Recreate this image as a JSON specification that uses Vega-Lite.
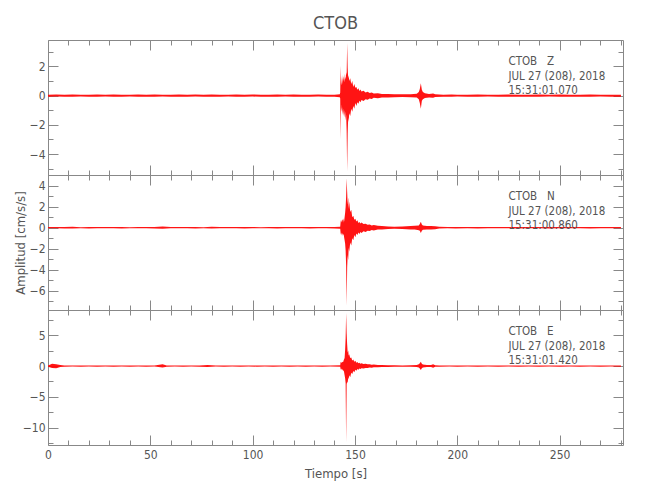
{
"$schema": "https://vega.github.io/schema/vega-lite/v6.json",
"padding": {"left": 13, "top": 15, "right": 5, "bottom": 5},
"title": {"text": "CTOB", "anchor": "middle", "frame": "group", "fontSize": 18, "fontWeight": "normal", "color": "#555", "font": "DejaVu Sans Condensed, Liberation Sans Narrow, sans-serif", "offset": 6},
"config": {
  "view": {"stroke": "#888"},
  "axis": {"domain": false, "grid": false, "tickColor": "#888", "tickWidth": 1, "labelColor": "#555", "labelFont": "DejaVu Sans Condensed, Liberation Sans Narrow, sans-serif", "labelFontSize": 12, "titleFont": "DejaVu Sans Condensed, Liberation Sans Narrow, sans-serif", "titleFontWeight": "normal", "titleColor": "#555", "titleFontSize": 13}
},
"datasets": {
"Z": [
{"t":0,"lo":-0.07,"hi":0.07},{"t":4,"lo":-0.06,"hi":0.08},{"t":8,"lo":-0.08,"hi":0.06},{"t":12,"lo":-0.07,"hi":0.08},{"t":16,"lo":-0.06,"hi":0.07},{"t":20,"lo":-0.07,"hi":0.06},{"t":24,"lo":-0.08,"hi":0.08},{"t":28,"lo":-0.06,"hi":0.07},{"t":32,"lo":-0.07,"hi":0.08},{"t":36,"lo":-0.08,"hi":0.07},{"t":40,"lo":-0.06,"hi":0.06},{"t":44,"lo":-0.07,"hi":0.08},{"t":48,"lo":-0.08,"hi":0.07},{"t":52,"lo":-0.07,"hi":0.08},{"t":56,"lo":-0.06,"hi":0.07},{"t":60,"lo":-0.07,"hi":0.06},{"t":64,"lo":-0.08,"hi":0.08},{"t":68,"lo":-0.07,"hi":0.07},{"t":72,"lo":-0.06,"hi":0.08},{"t":76,"lo":-0.07,"hi":0.07},{"t":80,"lo":-0.08,"hi":0.08},{"t":84,"lo":-0.07,"hi":0.06},{"t":88,"lo":-0.06,"hi":0.07},{"t":92,"lo":-0.08,"hi":0.08},{"t":96,"lo":-0.07,"hi":0.07},{"t":100,"lo":-0.06,"hi":0.08},{"t":104,"lo":-0.08,"hi":0.06},{"t":108,"lo":-0.07,"hi":0.07},{"t":112,"lo":-0.07,"hi":0.08},{"t":116,"lo":-0.06,"hi":0.07},{"t":120,"lo":-0.08,"hi":0.08},{"t":124,"lo":-0.07,"hi":0.06},{"t":128,"lo":-0.07,"hi":0.07},{"t":132,"lo":-0.06,"hi":0.08},{"t":136,"lo":-0.08,"hi":0.07},{"t":140,"lo":-0.07,"hi":0.07},
{"t":142.6,"lo":-0.1,"hi":0.1},{"t":142.8,"lo":-0.2,"hi":0.2},{"t":143,"lo":-3.0,"hi":2.05},{"t":143.2,"lo":-0.6,"hi":0.7},{"t":143.45,"lo":-1.1,"hi":0.9},{"t":143.7,"lo":-0.8,"hi":1.4},{"t":143.95,"lo":-1.3,"hi":0.8},{"t":144.2,"lo":-0.9,"hi":1.3},{"t":144.45,"lo":-1.4,"hi":1.0},{"t":144.7,"lo":-1.0,"hi":1.5},{"t":144.95,"lo":-1.5,"hi":0.9},{"t":145.2,"lo":-1.1,"hi":1.3},{"t":145.45,"lo":-1.7,"hi":1.1},{"t":145.7,"lo":-1.3,"hi":1.6},{"t":145.95,"lo":-2.4,"hi":1.4},{"t":146.2,"lo":-5.15,"hi":3.6},{"t":146.45,"lo":-2.6,"hi":1.9},{"t":146.7,"lo":-1.5,"hi":1.2},{"t":146.95,"lo":-1.8,"hi":1.4},{"t":147.2,"lo":-1.2,"hi":1.0},{"t":147.7,"lo":-1.4,"hi":1.2},{"t":148.2,"lo":-0.9,"hi":0.8},{"t":148.7,"lo":-1.1,"hi":1.0},{"t":149.2,"lo":-0.7,"hi":0.6},{"t":149.7,"lo":-0.9,"hi":0.8},{"t":150.2,"lo":-0.5,"hi":0.55},{"t":150.7,"lo":-0.7,"hi":0.6},{"t":151.2,"lo":-0.45,"hi":0.4},{"t":151.7,"lo":-0.55,"hi":0.5},{"t":152.2,"lo":-0.35,"hi":0.32},{"t":152.7,"lo":-0.45,"hi":0.42},{"t":153.2,"lo":-0.3,"hi":0.28},{"t":154.2,"lo":-0.36,"hi":0.33},{"t":155.2,"lo":-0.24,"hi":0.22},{"t":156.2,"lo":-0.28,"hi":0.27},{"t":157.2,"lo":-0.19,"hi":0.18},{"t":158.2,"lo":-0.22,"hi":0.21},{"t":159.2,"lo":-0.15,"hi":0.15},{"t":161.2,"lo":-0.17,"hi":0.16},{"t":163.2,"lo":-0.12,"hi":0.12},{"t":166.2,"lo":-0.13,"hi":0.12},{"t":169.2,"lo":-0.1,"hi":0.1},{"t":173.2,"lo":-0.09,"hi":0.09},{"t":177.2,"lo":-0.1,"hi":0.1},{"t":180.2,"lo":-0.13,"hi":0.13},{"t":181.2,"lo":-0.25,"hi":0.25},{"t":181.7,"lo":-0.5,"hi":0.45},{"t":182.2,"lo":-0.9,"hi":0.85},{"t":182.7,"lo":-0.35,"hi":0.4},{"t":183.2,"lo":-0.25,"hi":0.25},{"t":184.2,"lo":-0.16,"hi":0.16},{"t":186.2,"lo":-0.12,"hi":0.12},{"t":188.2,"lo":-0.15,"hi":0.14},{"t":189.2,"lo":-0.09,"hi":0.09},{"t":193.2,"lo":-0.07,"hi":0.07},{"t":197.2,"lo":-0.07,"hi":0.08},
{"t":200,"lo":-0.06,"hi":0.07},{"t":205,"lo":-0.08,"hi":0.07},{"t":210,"lo":-0.07,"hi":0.08},{"t":215,"lo":-0.06,"hi":0.07},{"t":220,"lo":-0.07,"hi":0.06},{"t":225,"lo":-0.08,"hi":0.08},{"t":230,"lo":-0.07,"hi":0.07},{"t":235,"lo":-0.08,"hi":0.07},{"t":240,"lo":-0.07,"hi":0.08},{"t":245,"lo":-0.06,"hi":0.07},{"t":250,"lo":-0.07,"hi":0.08},{"t":255,"lo":-0.08,"hi":0.07},{"t":260,"lo":-0.07,"hi":0.06},{"t":265,"lo":-0.07,"hi":0.08},{"t":270,"lo":-0.06,"hi":0.07},{"t":275,"lo":-0.08,"hi":0.07},{"t":280,"lo":-0.07,"hi":0.07}
],
"N": [
{"t":0,"lo":-0.06,"hi":0.06},{"t":4,"lo":-0.05,"hi":0.07},{"t":8,"lo":-0.07,"hi":0.06},{"t":12,"lo":-0.08,"hi":0.08},{"t":16,"lo":-0.06,"hi":0.05},{"t":20,"lo":-0.07,"hi":0.07},{"t":24,"lo":-0.06,"hi":0.06},{"t":28,"lo":-0.05,"hi":0.06},{"t":32,"lo":-0.06,"hi":0.07},{"t":36,"lo":-0.07,"hi":0.06},{"t":40,"lo":-0.06,"hi":0.05},{"t":44,"lo":-0.06,"hi":0.06},{"t":48,"lo":-0.05,"hi":0.07},{"t":52,"lo":-0.07,"hi":0.06},{"t":56,"lo":-0.1,"hi":0.11},{"t":60,"lo":-0.06,"hi":0.06},{"t":64,"lo":-0.05,"hi":0.06},{"t":68,"lo":-0.06,"hi":0.07},{"t":72,"lo":-0.07,"hi":0.06},{"t":76,"lo":-0.06,"hi":0.05},{"t":80,"lo":-0.08,"hi":0.08},{"t":84,"lo":-0.06,"hi":0.06},{"t":88,"lo":-0.05,"hi":0.07},{"t":92,"lo":-0.06,"hi":0.06},{"t":96,"lo":-0.07,"hi":0.06},{"t":100,"lo":-0.06,"hi":0.07},{"t":104,"lo":-0.06,"hi":0.05},{"t":108,"lo":-0.05,"hi":0.06},{"t":112,"lo":-0.07,"hi":0.07},{"t":116,"lo":-0.06,"hi":0.06},{"t":120,"lo":-0.06,"hi":0.07},{"t":124,"lo":-0.05,"hi":0.06},{"t":128,"lo":-0.07,"hi":0.06},{"t":132,"lo":-0.06,"hi":0.07},{"t":136,"lo":-0.06,"hi":0.06},{"t":140,"lo":-0.07,"hi":0.06},
{"t":142.8,"lo":-0.1,"hi":0.1},{"t":143,"lo":-0.5,"hi":0.55},{"t":143.2,"lo":-0.7,"hi":0.75},{"t":143.45,"lo":-0.45,"hi":0.5},{"t":143.7,"lo":-0.8,"hi":0.7},{"t":143.95,"lo":-0.5,"hi":0.8},{"t":144.2,"lo":-0.7,"hi":0.5},{"t":144.45,"lo":-0.6,"hi":0.9},{"t":144.7,"lo":-0.9,"hi":0.6},{"t":144.95,"lo":-1.2,"hi":1.0},{"t":145.2,"lo":-1.5,"hi":1.4},{"t":145.45,"lo":-2.2,"hi":2.0},{"t":145.7,"lo":-3.6,"hi":3.0},{"t":145.95,"lo":-7.4,"hi":4.7},{"t":146.2,"lo":-3.8,"hi":3.4},{"t":146.45,"lo":-2.6,"hi":2.2},{"t":146.7,"lo":-3.1,"hi":2.9},{"t":146.95,"lo":-1.9,"hi":1.8},{"t":147.2,"lo":-2.3,"hi":2.5},{"t":147.7,"lo":-1.4,"hi":1.5},{"t":148.2,"lo":-1.7,"hi":1.7},{"t":148.7,"lo":-1.0,"hi":1.0},{"t":149.2,"lo":-1.2,"hi":1.15},{"t":149.7,"lo":-0.7,"hi":0.75},{"t":150.2,"lo":-0.9,"hi":0.85},{"t":150.7,"lo":-0.55,"hi":0.6},{"t":151.2,"lo":-0.7,"hi":0.7},{"t":151.7,"lo":-0.45,"hi":0.45},{"t":152.2,"lo":-0.6,"hi":0.55},{"t":152.7,"lo":-0.4,"hi":0.4},{"t":153.2,"lo":-0.5,"hi":0.5},{"t":154.2,"lo":-0.35,"hi":0.36},{"t":155.2,"lo":-0.4,"hi":0.38},{"t":156.2,"lo":-0.28,"hi":0.27},{"t":157.2,"lo":-0.32,"hi":0.3},{"t":158.2,"lo":-0.22,"hi":0.22},{"t":159.2,"lo":-0.26,"hi":0.25},{"t":161.2,"lo":-0.18,"hi":0.18},{"t":163.2,"lo":-0.17,"hi":0.16},{"t":166.2,"lo":-0.12,"hi":0.12},{"t":169.2,"lo":-0.1,"hi":0.1},{"t":173.2,"lo":-0.12,"hi":0.11},{"t":177.2,"lo":-0.16,"hi":0.15},{"t":179.2,"lo":-0.18,"hi":0.18},{"t":181.2,"lo":-0.25,"hi":0.22},{"t":181.7,"lo":-0.3,"hi":0.35},{"t":182.2,"lo":-0.5,"hi":0.57},{"t":182.7,"lo":-0.3,"hi":0.3},{"t":183.2,"lo":-0.2,"hi":0.22},{"t":185.2,"lo":-0.18,"hi":0.16},{"t":187.2,"lo":-0.16,"hi":0.15},{"t":189.2,"lo":-0.14,"hi":0.13},{"t":191.2,"lo":-0.08,"hi":0.08},{"t":195.2,"lo":-0.06,"hi":0.07},{"t":199.2,"lo":-0.07,"hi":0.06},
{"t":205,"lo":-0.05,"hi":0.07},{"t":210,"lo":-0.07,"hi":0.06},{"t":215,"lo":-0.06,"hi":0.06},{"t":220,"lo":-0.06,"hi":0.07},{"t":225,"lo":-0.05,"hi":0.06},{"t":230,"lo":-0.07,"hi":0.06},{"t":235,"lo":-0.06,"hi":0.07},{"t":240,"lo":-0.06,"hi":0.06},{"t":245,"lo":-0.07,"hi":0.06},{"t":250,"lo":-0.06,"hi":0.07},{"t":255,"lo":-0.05,"hi":0.06},{"t":260,"lo":-0.06,"hi":0.06},{"t":265,"lo":-0.07,"hi":0.07},{"t":270,"lo":-0.06,"hi":0.06},{"t":275,"lo":-0.06,"hi":0.07},{"t":280,"lo":-0.06,"hi":0.06}
],
"E": [
{"t":0,"lo":-0.1,"hi":0.1},{"t":2,"lo":-0.3,"hi":0.35},{"t":4,"lo":-0.35,"hi":0.3},{"t":6,"lo":-0.15,"hi":0.15},{"t":8,"lo":-0.1,"hi":0.09},{"t":12,"lo":-0.09,"hi":0.1},{"t":16,"lo":-0.1,"hi":0.08},{"t":20,"lo":-0.08,"hi":0.1},{"t":24,"lo":-0.1,"hi":0.09},{"t":28,"lo":-0.09,"hi":0.1},{"t":32,"lo":-0.1,"hi":0.1},{"t":36,"lo":-0.08,"hi":0.09},{"t":40,"lo":-0.1,"hi":0.1},{"t":44,"lo":-0.09,"hi":0.08},{"t":48,"lo":-0.1,"hi":0.1},{"t":52,"lo":-0.09,"hi":0.1},{"t":56,"lo":-0.22,"hi":0.27},{"t":58,"lo":-0.1,"hi":0.1},{"t":62,"lo":-0.08,"hi":0.09},{"t":66,"lo":-0.1,"hi":0.1},{"t":70,"lo":-0.09,"hi":0.08},{"t":74,"lo":-0.1,"hi":0.1},{"t":78,"lo":-0.15,"hi":0.17},{"t":82,"lo":-0.09,"hi":0.1},{"t":86,"lo":-0.1,"hi":0.09},{"t":90,"lo":-0.08,"hi":0.1},{"t":94,"lo":-0.1,"hi":0.09},{"t":98,"lo":-0.09,"hi":0.1},{"t":102,"lo":-0.1,"hi":0.1},{"t":106,"lo":-0.09,"hi":0.08},{"t":110,"lo":-0.1,"hi":0.1},{"t":114,"lo":-0.08,"hi":0.09},{"t":118,"lo":-0.1,"hi":0.1},{"t":122,"lo":-0.09,"hi":0.1},{"t":126,"lo":-0.1,"hi":0.08},{"t":130,"lo":-0.09,"hi":0.1},{"t":134,"lo":-0.1,"hi":0.09},{"t":138,"lo":-0.08,"hi":0.1},
{"t":142.8,"lo":-0.12,"hi":0.12},{"t":143,"lo":-0.5,"hi":0.6},{"t":143.2,"lo":-0.6,"hi":0.7},{"t":143.45,"lo":-0.4,"hi":0.5},{"t":143.7,"lo":-0.7,"hi":0.6},{"t":143.95,"lo":-0.5,"hi":0.7},{"t":144.2,"lo":-0.8,"hi":0.6},{"t":144.45,"lo":-0.7,"hi":0.9},{"t":144.7,"lo":-1.0,"hi":1.1},{"t":144.95,"lo":-1.5,"hi":1.3},{"t":145.2,"lo":-2.0,"hi":2.6},{"t":145.45,"lo":-2.8,"hi":4.5},{"t":145.7,"lo":-12.3,"hi":8.6},{"t":145.95,"lo":-3.0,"hi":5.3},{"t":146.2,"lo":-2.5,"hi":3.5},{"t":146.45,"lo":-2.8,"hi":2.2},{"t":146.7,"lo":-1.8,"hi":2.5},{"t":146.95,"lo":-2.2,"hi":1.7},{"t":147.2,"lo":-1.5,"hi":1.9},{"t":147.7,"lo":-1.8,"hi":1.3},{"t":148.2,"lo":-1.1,"hi":1.4},{"t":148.7,"lo":-1.3,"hi":0.9},{"t":149.2,"lo":-0.8,"hi":1.05},{"t":149.7,"lo":-1.0,"hi":0.7},{"t":150.2,"lo":-0.6,"hi":0.85},{"t":150.7,"lo":-0.75,"hi":0.55},{"t":151.2,"lo":-0.5,"hi":0.65},{"t":151.7,"lo":-0.6,"hi":0.45},{"t":152.2,"lo":-0.4,"hi":0.55},{"t":152.7,"lo":-0.5,"hi":0.38},{"t":153.2,"lo":-0.35,"hi":0.45},{"t":154.2,"lo":-0.42,"hi":0.33},{"t":155.2,"lo":-0.3,"hi":0.38},{"t":156.2,"lo":-0.34,"hi":0.27},{"t":157.2,"lo":-0.24,"hi":0.3},{"t":158.2,"lo":-0.27,"hi":0.22},{"t":159.2,"lo":-0.2,"hi":0.24},{"t":161.2,"lo":-0.2,"hi":0.18},{"t":163.2,"lo":-0.15,"hi":0.16},{"t":166.2,"lo":-0.14,"hi":0.13},{"t":169.2,"lo":-0.12,"hi":0.11},{"t":173.2,"lo":-0.1,"hi":0.1},{"t":177.2,"lo":-0.11,"hi":0.11},{"t":180.2,"lo":-0.15,"hi":0.15},{"t":181.2,"lo":-0.25,"hi":0.3},{"t":181.7,"lo":-0.4,"hi":0.45},{"t":182.2,"lo":-0.65,"hi":0.7},{"t":182.7,"lo":-0.35,"hi":0.35},{"t":183.2,"lo":-0.25,"hi":0.25},{"t":185.2,"lo":-0.17,"hi":0.15},{"t":187.2,"lo":-0.15,"hi":0.15},{"t":188.2,"lo":-0.28,"hi":0.28},{"t":189.2,"lo":-0.13,"hi":0.13},{"t":191.2,"lo":-0.1,"hi":0.1},{"t":196.2,"lo":-0.09,"hi":0.1},
{"t":200,"lo":-0.1,"hi":0.09},{"t":205,"lo":-0.09,"hi":0.1},{"t":210,"lo":-0.1,"hi":0.1},{"t":215,"lo":-0.08,"hi":0.09},{"t":220,"lo":-0.1,"hi":0.1},{"t":225,"lo":-0.09,"hi":0.08},{"t":230,"lo":-0.1,"hi":0.1},{"t":235,"lo":-0.09,"hi":0.1},{"t":240,"lo":-0.1,"hi":0.09},{"t":245,"lo":-0.08,"hi":0.1},{"t":250,"lo":-0.1,"hi":0.1},{"t":255,"lo":-0.09,"hi":0.09},{"t":260,"lo":-0.1,"hi":0.1},{"t":265,"lo":-0.09,"hi":0.08},{"t":270,"lo":-0.1,"hi":0.1},{"t":275,"lo":-0.09,"hi":0.1},{"t":280,"lo":-0.1,"hi":0.09}
]
},
"spacing": 0,
"bounds": "flush",
"vconcat": [
{
 "width": 575, "height": 135,
 "data": {"name": "Z"},
 "resolve": {"axis": {"x": "independent", "y": "independent"}},
 "layer": [
  {"mark": {"type": "area", "color": "#ff0000", "opacity": 0.92},
   "encoding": {
    "x": {"field": "t", "type": "quantitative", "scale": {"domain": [0, 281], "nice": false, "zero": false}, "axis": null},
    "y": {"field": "lo", "type": "quantitative", "scale": {"domain": [-5.43, 3.81], "nice": false, "zero": false}, "axis": {"orient": "left", "values": [-4, -2, 0, 2], "ticks": false, "labelPadding": 3, "title": null}},
    "y2": {"field": "hi"}}},
  {"mark": {"type": "point", "opacity": 0},
   "encoding": {
    "x": {"field": "t", "type": "quantitative", "axis": {"orient": "bottom", "values": [0, 50, 100, 150, 200, 250], "labels": false, "tickSize": -10, "title": null}},
    "y": {"field": "lo", "type": "quantitative", "axis": {"orient": "left", "values": [-4, -2, 0, 2], "labels": false, "tickSize": -10, "title": null}}}},
  {"mark": {"type": "point", "opacity": 0},
   "encoding": {
    "x": {"field": "t", "type": "quantitative", "axis": {"orient": "bottom", "values": [10, 20, 30, 40, 60, 70, 80, 90, 110, 120, 130, 140, 160, 170, 180, 190, 210, 220, 230, 240, 260, 270, 280], "labels": false, "tickSize": -5, "title": null}},
    "y": {"field": "lo", "type": "quantitative", "axis": {"orient": "left", "values": [-5, -3, -1, 1, 3], "labels": false, "tickSize": -5, "title": null}}}},
  {"mark": {"type": "point", "opacity": 0},
   "encoding": {
    "x": {"field": "t", "type": "quantitative", "axis": {"orient": "top", "values": [0, 50, 100, 150, 200, 250], "labels": false, "tickSize": -10, "title": null}},
    "y": {"field": "lo", "type": "quantitative", "axis": {"orient": "right", "values": [-4, -2, 0, 2], "labels": false, "tickSize": -10, "title": null}}}},
  {"mark": {"type": "point", "opacity": 0},
   "encoding": {
    "x": {"field": "t", "type": "quantitative", "axis": {"orient": "top", "values": [10, 20, 30, 40, 60, 70, 80, 90, 110, 120, 130, 140, 160, 170, 180, 190, 210, 220, 230, 240, 260, 270, 280], "labels": false, "tickSize": -5, "title": null}},
    "y": {"field": "lo", "type": "quantitative", "axis": {"orient": "right", "values": [-5, -3, -1, 1, 3], "labels": false, "tickSize": -5, "title": null}}}},
  {"data": {"values": [{"txt": "CTOB\u00a0\u00a0\u00a0Z\nJUL 27 (208), 2018\n15:31:01.070"}]},
   "mark": {"type": "text", "align": "left", "baseline": "alphabetic", "lineBreak": "\n", "fontSize": 11.5, "lineHeight": 14.5, "color": "#555", "font": "DejaVu Sans Condensed, Liberation Sans Narrow, sans-serif"},
   "encoding": {
    "x": {"datum": 225, "type": "quantitative", "axis": null},
    "y": {"datum": 2.08, "type": "quantitative", "axis": null},
    "text": {"field": "txt"}}}
 ]
},
{
 "width": 575, "height": 135,
 "data": {"name": "N"},
 "resolve": {"axis": {"x": "independent", "y": "independent"}},
 "layer": [
  {"mark": {"type": "area", "color": "#ff0000", "opacity": 0.92},
   "encoding": {
    "x": {"field": "t", "type": "quantitative", "scale": {"domain": [0, 281], "nice": false, "zero": false}, "axis": null},
    "y": {"field": "lo", "type": "quantitative", "scale": {"domain": [-7.84, 5.02], "nice": false, "zero": false}, "axis": {"orient": "left", "values": [-6, -4, -2, 0, 2, 4], "ticks": false, "labelPadding": 3, "title": "Amplitud [cm/s/s]", "titlePadding": 2}},
    "y2": {"field": "hi"}}},
  {"mark": {"type": "point", "opacity": 0},
   "encoding": {
    "x": {"field": "t", "type": "quantitative", "axis": {"orient": "bottom", "values": [0, 50, 100, 150, 200, 250], "labels": false, "tickSize": -10, "title": null}},
    "y": {"field": "lo", "type": "quantitative", "axis": {"orient": "left", "values": [-6, -4, -2, 0, 2, 4], "labels": false, "tickSize": -10, "title": null}}}},
  {"mark": {"type": "point", "opacity": 0},
   "encoding": {
    "x": {"field": "t", "type": "quantitative", "axis": {"orient": "bottom", "values": [10, 20, 30, 40, 60, 70, 80, 90, 110, 120, 130, 140, 160, 170, 180, 190, 210, 220, 230, 240, 260, 270, 280], "labels": false, "tickSize": -5, "title": null}},
    "y": {"field": "lo", "type": "quantitative", "axis": {"orient": "left", "values": [-7, -5, -3, -1, 1, 3, 5], "labels": false, "tickSize": -5, "title": null}}}},
  {"mark": {"type": "point", "opacity": 0},
   "encoding": {
    "x": {"field": "t", "type": "quantitative", "axis": {"orient": "top", "values": [0, 50, 100, 150, 200, 250], "labels": false, "tickSize": -10, "title": null}},
    "y": {"field": "lo", "type": "quantitative", "axis": {"orient": "right", "values": [-6, -4, -2, 0, 2, 4], "labels": false, "tickSize": -10, "title": null}}}},
  {"mark": {"type": "point", "opacity": 0},
   "encoding": {
    "x": {"field": "t", "type": "quantitative", "axis": {"orient": "top", "values": [10, 20, 30, 40, 60, 70, 80, 90, 110, 120, 130, 140, 160, 170, 180, 190, 210, 220, 230, 240, 260, 270, 280], "labels": false, "tickSize": -5, "title": null}},
    "y": {"field": "lo", "type": "quantitative", "axis": {"orient": "right", "values": [-7, -5, -3, -1, 1, 3, 5], "labels": false, "tickSize": -5, "title": null}}}},
  {"data": {"values": [{"txt": "CTOB\u00a0\u00a0\u00a0N\nJUL 27 (208), 2018\n15:31:00.860"}]},
   "mark": {"type": "text", "align": "left", "baseline": "alphabetic", "lineBreak": "\n", "fontSize": 11.5, "lineHeight": 14.5, "color": "#555", "font": "DejaVu Sans Condensed, Liberation Sans Narrow, sans-serif"},
   "encoding": {
    "x": {"datum": 225, "type": "quantitative", "axis": null},
    "y": {"datum": 2.62, "type": "quantitative", "axis": null},
    "text": {"field": "txt"}}}
 ]
},
{
 "width": 575, "height": 135,
 "data": {"name": "E"},
 "resolve": {"axis": {"x": "independent", "y": "independent"}},
 "layer": [
  {"mark": {"type": "area", "color": "#ff0000", "opacity": 0.92},
   "encoding": {
    "x": {"field": "t", "type": "quantitative", "scale": {"domain": [0, 281], "nice": false, "zero": false}, "axis": {"orient": "bottom", "values": [0, 50, 100, 150, 200, 250], "ticks": false, "labelPadding": 4, "labelFlush": false, "title": "Tiempo [s]", "titlePadding": 7}},
    "y": {"field": "lo", "type": "quantitative", "scale": {"domain": [-12.8, 9.08], "nice": false, "zero": false}, "axis": {"orient": "left", "values": [-10, -5, 0, 5], "ticks": false, "labelPadding": 3, "title": null}},
    "y2": {"field": "hi"}}},
  {"mark": {"type": "point", "opacity": 0},
   "encoding": {
    "x": {"field": "t", "type": "quantitative", "axis": {"orient": "bottom", "values": [0, 50, 100, 150, 200, 250], "labels": false, "tickSize": -10, "title": null}},
    "y": {"field": "lo", "type": "quantitative", "axis": {"orient": "left", "values": [-10, -5, 0, 5], "labels": false, "tickSize": -10, "title": null}}}},
  {"mark": {"type": "point", "opacity": 0},
   "encoding": {
    "x": {"field": "t", "type": "quantitative", "axis": {"orient": "bottom", "values": [10, 20, 30, 40, 60, 70, 80, 90, 110, 120, 130, 140, 160, 170, 180, 190, 210, 220, 230, 240, 260, 270, 280], "labels": false, "tickSize": -5, "title": null}},
    "y": {"field": "lo", "type": "quantitative", "axis": {"orient": "left", "values": [-12.5, -7.5, -2.5, 2.5, 7.5], "labels": false, "tickSize": -5, "title": null}}}},
  {"mark": {"type": "point", "opacity": 0},
   "encoding": {
    "x": {"field": "t", "type": "quantitative", "axis": {"orient": "top", "values": [0, 50, 100, 150, 200, 250], "labels": false, "tickSize": -10, "title": null}},
    "y": {"field": "lo", "type": "quantitative", "axis": {"orient": "right", "values": [-10, -5, 0, 5], "labels": false, "tickSize": -10, "title": null}}}},
  {"mark": {"type": "point", "opacity": 0},
   "encoding": {
    "x": {"field": "t", "type": "quantitative", "axis": {"orient": "top", "values": [10, 20, 30, 40, 60, 70, 80, 90, 110, 120, 130, 140, 160, 170, 180, 190, 210, 220, 230, 240, 260, 270, 280], "labels": false, "tickSize": -5, "title": null}},
    "y": {"field": "lo", "type": "quantitative", "axis": {"orient": "right", "values": [-12.5, -7.5, -2.5, 2.5, 7.5], "labels": false, "tickSize": -5, "title": null}}}},
  {"data": {"values": [{"txt": "CTOB\u00a0\u00a0\u00a0E\nJUL 27 (208), 2018\n15:31:01.420"}]},
   "mark": {"type": "text", "align": "left", "baseline": "alphabetic", "lineBreak": "\n", "fontSize": 11.5, "lineHeight": 14.5, "color": "#555", "font": "DejaVu Sans Condensed, Liberation Sans Narrow, sans-serif"},
   "encoding": {
    "x": {"datum": 225, "type": "quantitative", "axis": null},
    "y": {"datum": 4.99, "type": "quantitative", "axis": null},
    "text": {"field": "txt"}}}
 ]
}
]
}
